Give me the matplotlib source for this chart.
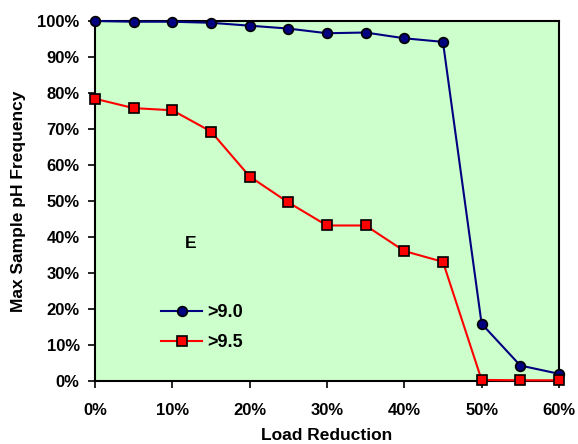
import matplotlib.pyplot as plt
from matplotlib.ticker import PercentFormatter

plt.rcParams["font.family"] = ["Liberation Sans", "DejaVu Sans"]
plt.rcParams["font.weight"] = "bold"

load_reduction = [0, 5, 10, 15, 20, 25, 30, 35, 40, 45, 50, 55, 60]
ph_90 = [100, 99.8, 99.8, 99.5, 98.7, 97.9, 96.6, 96.8, 95.2, 94.2, 15.9, 4.3, 2.0]
ph_95 = [78.4, 75.8, 75.2, 69.3, 56.8, 49.6, 43.2, 43.2, 36.1, 33.1, 0.3, 0.2, 0.2]

fig = plt.figure(figsize=(5.78, 4.44), dpi=100)
ax = fig.add_axes([0.1644, 0.1419, 0.8026, 0.8108])
ax.set_facecolor("#CCFFCC")

ax.plot(load_reduction, ph_90, color="#000080", lw=1.5, marker="o", ms=7,
        mfc="#000080", mec="black", mew=1.2, label=">9.0", clip_on=False, zorder=3)
ax.plot(load_reduction, ph_95, color="#FF0000", lw=1.5, marker="s", ms=6.5,
        mfc="#FF0000", mec="black", mew=1.2, label=">9.5", clip_on=False, zorder=3)

ax.set_xlim(0, 60)
ax.set_ylim(0, 100)
ax.set_xticks(range(0, 61, 10))
ax.set_yticks(range(0, 101, 10))
ax.xaxis.set_major_formatter(PercentFormatter(decimals=0))
ax.yaxis.set_major_formatter(PercentFormatter(decimals=0))
ax.tick_params(axis="x", direction="out", length=5, width=1.2, pad=11, labelsize=12)
ax.tick_params(axis="y", direction="out", length=5, width=1.2, pad=6, labelsize=12)
for s in ax.spines.values():
    s.set_linewidth(1.5)

ax.set_xlabel("Load Reduction", fontsize=12.5, fontweight="bold", labelpad=7)
ax.set_ylabel("Max Sample pH Frequency", fontsize=12.5, fontweight="bold", labelpad=8)

ax.text(12.4, 38.3, "E", fontsize=12.5, fontweight="bold", ha="center", va="center")

ax.legend(loc="center left", bbox_to_anchor=(0.142, 0.148), frameon=False,
          borderaxespad=0, borderpad=0, fontsize=13, handlelength=2.3,
          handletextpad=0.25, labelspacing=0.72)

fig.savefig("out.png", dpi=100)
